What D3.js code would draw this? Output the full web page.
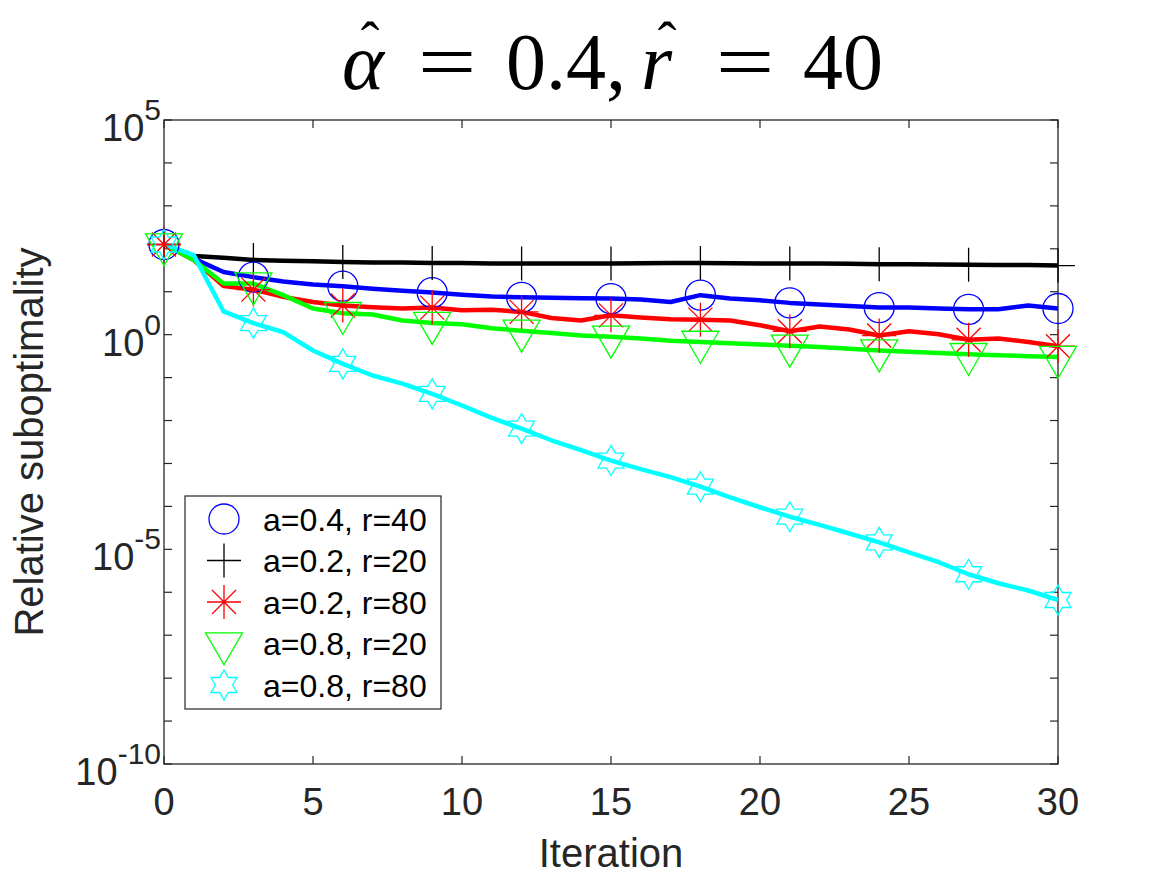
<!DOCTYPE html>
<html>
<head>
<meta charset="utf-8">
<script src="https://cdn.jsdelivr.net/npm/d3@7.9.0/dist/d3.min.js"></script>
<style>
  html, body { margin: 0; padding: 0; background: #fff; }
  svg { display: block; }
</style>
</head>
<body>
<svg id="chart" width="1167" height="875"></svg>
<script>
// iterations 0..30
const iterations = d3.range(0, 31);
const markerEvery = 3;

// relative suboptimality, one value per iteration
const blueVals  = [126, 58.9, 28.8, 21.9, 17.4, 14.8, 13.5, 11.7, 10.5, 9.55, 8.51, 7.76, 7.41, 7.24, 7.08, 6.92, 6.61, 5.75, 8.32, 6.92, 6.31, 5.50, 5.01, 4.68, 4.27, 4.27, 4.07, 3.89, 3.89, 4.79, 4.07];
const blackVals = [126, 67.6, 61.7, 55.0, 52.5, 51.3, 49.0, 47.9, 47.9, 46.8, 46.8, 45.7, 45.7, 45.7, 45.7, 45.7, 46.2, 46.8, 46.8, 46.2, 45.7, 45.7, 45.2, 44.7, 43.7, 43.7, 43.2, 42.7, 42.2, 41.7, 40.7];
const redVals   = [126, 55.0, 13.5, 11.2, 7.59, 5.75, 4.79, 4.37, 4.07, 4.27, 3.72, 3.80, 3.39, 2.45, 2.14, 2.82, 2.51, 2.29, 2.24, 2.14, 1.66, 1.20, 1.55, 1.32, 0.955, 1.20, 1.02, 0.759, 0.813, 0.676, 0.537];
const greenVals = [126, 55.0, 15.5, 15.5, 8.32, 4.07, 3.16, 2.95, 2.14, 1.86, 1.74, 1.41, 1.23, 1.10, 0.955, 0.891, 0.813, 0.724, 0.676, 0.631, 0.589, 0.550, 0.513, 0.468, 0.427, 0.398, 0.372, 0.351, 0.331, 0.316, 0.302];
const cyanVals  = [126, 70.8, 3.47, 1.86, 1.15, 0.427, 0.209, 0.112, 0.0724, 0.0417, 0.0224, 0.0115, 6.46e-3, 3.47e-3, 2.04e-3, 1.17e-3, 7.41e-4, 4.79e-4, 2.88e-4, 1.62e-4, 9.55e-5, 5.75e-5, 3.72e-5, 2.34e-5, 1.45e-5, 8.51e-6, 5.01e-6, 2.63e-6, 1.62e-6, 1.10e-6, 6.61e-7];

const seriesLabels  = ['a=0.4, r=40', 'a=0.2, r=20', 'a=0.2, r=80', 'a=0.8, r=20', 'a=0.8, r=80'];
const seriesColors  = ['#0000ff', '#000000', '#ff0000', '#00ff00', '#00ffff'];
const seriesMarkers = ['circle', 'plus', 'asterisk', 'triangleDown', 'hexagram'];
const seriesValues  = [blueVals, blackVals, redVals, greenVals, cyanVals];

const xTicks = [0, 5, 10, 15, 20, 25, 30];
const yLabelExps = [-10, -5, 0, 5];

const svg = d3.select('#chart');
const axLeft = 164, axRight = 1058, axTop = 120, axBottom = 764;
const axisColor = '#262626';
const sansFont = '"Liberation Sans", Arial, Helvetica, sans-serif';
const serifFont = '"Liberation Serif", "Times New Roman", serif';

const x = d3.scaleLinear().domain([0, 30]).range([axLeft, axRight]);
const y = d3.scaleLog().domain([1e-10, 1e5]).range([axBottom, axTop]);

// marker shapes, drawn around (0,0)
function markerPath(type) {
    const p = d3.path();
    if (type === 'circle') {
        p.moveTo(15, 0); p.arc(0, 0, 15, 0, 2 * Math.PI);
    } else if (type === 'plus') {
        p.moveTo(-17, 0); p.lineTo(17, 0);
        p.moveTo(0, -17); p.lineTo(0, 17);
    } else if (type === 'asterisk') {
        p.moveTo(-17, 0); p.lineTo(17, 0);
        p.moveTo(0, -17); p.lineTo(0, 17);
        p.moveTo(-12, -12); p.lineTo(12, 12);
        p.moveTo(-12, 12); p.lineTo(12, -12);
    } else if (type === 'triangleDown') {
        p.moveTo(-18.5, -10.7); p.lineTo(18.5, -10.7); p.lineTo(0, 21.3); p.closePath();
    } else if (type === 'hexagram') {
        const ro = 15, ri = 15 / Math.sqrt(3);
        for (let k = 0; k < 12; k++) {
            const a = -Math.PI / 2 + k * Math.PI / 6;
            const r = k % 2 === 0 ? ro : ri;
            if (k === 0) p.moveTo(r * Math.cos(a), r * Math.sin(a));
            else p.lineTo(r * Math.cos(a), r * Math.sin(a));
        }
        p.closePath();
    }
    return p.toString();
}

// axes box
svg.append('rect')
    .attr('x', axLeft).attr('y', axTop)
    .attr('width', axRight - axLeft).attr('height', axBottom - axTop)
    .attr('fill', 'none').attr('stroke', axisColor).attr('stroke-width', 1.3);

const tickLen = 8;
const ticks = svg.append('g').attr('stroke', axisColor).attr('stroke-width', 1.2);
xTicks.forEach(t => {
    ticks.append('line').attr('x1', x(t)).attr('x2', x(t)).attr('y1', axBottom).attr('y2', axBottom - tickLen);
    ticks.append('line').attr('x1', x(t)).attr('x2', x(t)).attr('y1', axTop).attr('y2', axTop + tickLen);
});
d3.range(-10, 6).forEach(e => {
    const yy = y(Math.pow(10, e));
    ticks.append('line').attr('x1', axLeft).attr('x2', axLeft + tickLen).attr('y1', yy).attr('y2', yy);
    ticks.append('line').attr('x1', axRight).attr('x2', axRight - tickLen).attr('y1', yy).attr('y2', yy);
});

// tick labels
svg.append('g')
    .selectAll('text')
    .data(xTicks)
    .join('text')
    .attr('x', d => x(d))
    .attr('y', 815)
    .attr('text-anchor', 'middle')
    .style('font-family', sansFont)
    .style('font-size', '38px')
    .attr('fill', axisColor)
    .text(d => d);

const yLabels = svg.append('g');
yLabelExps.forEach(e => {
    const yy = y(Math.pow(10, e));
    const t = yLabels.append('text')
        .attr('x', 161)
        .attr('y', yy + 21)
        .attr('text-anchor', 'end')
        .style('font-family', sansFont)
        .attr('fill', axisColor);
    t.append('tspan').style('font-size', '38px').text('10');
    t.append('tspan').style('font-size', '30px').attr('dy', -21).text(e);
});

// axis titles
svg.append('text')
    .attr('x', (axLeft + axRight) / 2)
    .attr('y', 867)
    .attr('text-anchor', 'middle')
    .style('font-family', sansFont)
    .style('font-size', '40px')
    .attr('fill', axisColor)
    .text('Iteration');

svg.append('text')
    .attr('transform', `translate(43,${(axTop + axBottom) / 2}) rotate(-90)`)
    .attr('text-anchor', 'middle')
    .style('font-family', sansFont)
    .style('font-size', '40px')
    .attr('fill', axisColor)
    .text('Relative suboptimality');

// title, laid out piece by piece like the typeset math
const title = svg.append('g')
    .style('font-family', serifFont)
    .style('font-size', '80px')
    .attr('fill', '#000');
const titleBase = 89;

// a letter with a hat placed over it, kept in one text element
function hatted(letter, lx, hatCenter) {
    const t = title.append('text').attr('x', lx).attr('y', titleBase);
    t.append('tspan').style('font-style', 'italic').text(letter);
    t.append('tspan')
        .attr('x', hatCenter - 9.3)
        .attr('y', 61)
        .style('font-size', '56px')
        .text('\u02C6');
}
hatted('α', 342, 370);
title.append('text').attr('transform', `translate(447,${titleBase}) scale(1.3,1)`).attr('text-anchor', 'middle').text('=');
title.append('text').attr('x', 506).attr('y', titleBase).text('0.4,');
hatted('r', 641, 667);
title.append('text').attr('transform', `translate(745,${titleBase}) scale(1.3,1)`).attr('text-anchor', 'middle').text('=');
title.append('text').attr('x', 803).attr('y', titleBase).text('40');

// lines
const line = d3.line()
    .x((d, i) => x(iterations[i]))
    .y(d => y(d));

const plot = svg.append('g');
seriesValues.forEach((vals, s) => {
    plot.append('path')
        .datum(vals)
        .attr('d', line)
        .attr('fill', 'none')
        .attr('stroke', seriesColors[s])
        .attr('stroke-width', 4.5)
        .attr('stroke-linejoin', 'round');
});

// markers every third iteration
seriesValues.forEach((vals, s) => {
    plot.append('g')
        .selectAll('path')
        .data(iterations.filter(it => it % markerEvery === 0))
        .join('path')
        .attr('transform', it => `translate(${x(it)},${y(vals[it])})`)
        .attr('d', markerPath(seriesMarkers[s]))
        .attr('fill', 'none')
        .attr('stroke', seriesColors[s])
        .attr('stroke-width', 1.3);
});

// legend
const legend = svg.append('g');
legend.append('rect')
    .attr('x', 185).attr('y', 496)
    .attr('width', 256).attr('height', 213)
    .attr('fill', '#fff')
    .attr('stroke', axisColor)
    .attr('stroke-width', 1.2);

seriesLabels.forEach((label, s) => {
    const ry = 519 + s * 41.5;
    legend.append('path')
        .attr('transform', `translate(224,${ry})`)
        .attr('d', markerPath(seriesMarkers[s]))
        .attr('fill', 'none')
        .attr('stroke', seriesColors[s])
        .attr('stroke-width', 1.3);
    legend.append('text')
        .attr('x', 263)
        .attr('y', ry + 11.5)
        .style('font-family', sansFont)
        .style('font-size', '32px')
        .attr('fill', '#000')
        .text(label);
});
</script>
</body>
</html>
